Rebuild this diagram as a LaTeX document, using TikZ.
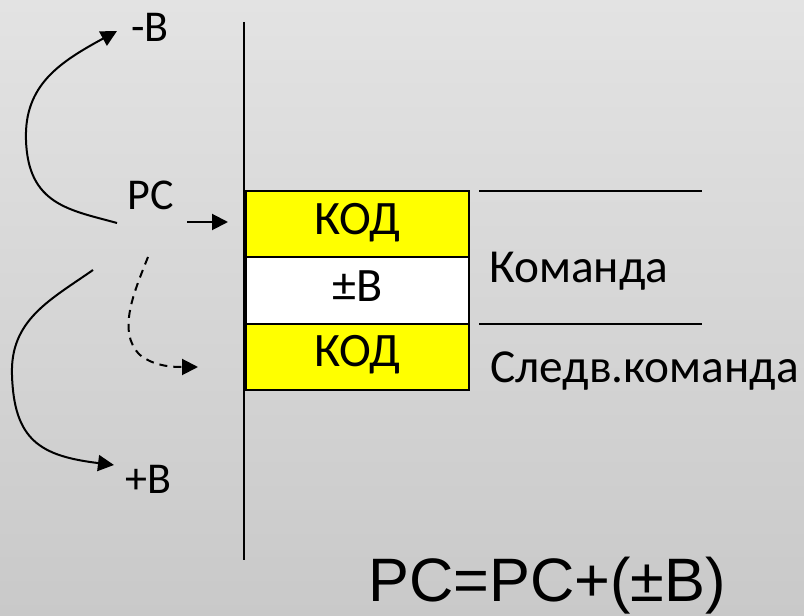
\documentclass[tikz,border=0pt]{standalone}
\usepackage{fontspec}
\setmainfont{Carlito}
\newfontfamily\arialfont{Liberation Sans}
\usetikzlibrary{arrows.meta}
\definecolor{bgtop}{RGB}{227,227,227}
\definecolor{bgbot}{RGB}{201,201,201}
\definecolor{kodyellow}{RGB}{255,255,0}
\tikzset{
  lbl/.style={inner sep=0pt, font=\fontsize{33}{36}\selectfont},
  biglbl/.style={inner sep=0pt, font=\fontsize{35.5}{40}\selectfont},
  cell/.style={draw=black, line width=1.5pt},
  celltxt/.style={inner sep=0pt, font=\fontsize{36}{40}\selectfont},
  conn/.style={line width=1.5pt, -{Triangle[length=12pt,width=12pt]}},
  dconn/.style={conn, dash pattern=on 6pt off 4.5pt},
  plain/.style={line width=1.3pt}
}
\begin{document}
\begin{tikzpicture}[x=0.75pt,y=-0.75pt]
\shade[top color=bgtop, bottom color=bgbot] (0,0) rectangle (804,616);
\useasboundingbox (0,0) rectangle (804,616);
% vertical axis
\coordinate (vtop) at (244,22);
\coordinate (vbot) at (244,560);
\draw[plain] (vtop) -- (vbot);
% memory cells
\filldraw[cell, fill=kodyellow] (246,191) rectangle (469,257);
\filldraw[cell, fill=white] (246,257) rectangle (469,324);
\filldraw[cell, fill=kodyellow] (246,324) rectangle (469,390);
\node[celltxt, anchor=base] (kod1) at (357.5,235) {КОД};
\node[celltxt, anchor=base] (offs) at (357.5,302) {±B};
\node[celltxt, anchor=base] (kod2) at (357.5,367) {КОД};
% bracket lines
\coordinate (h1a) at (479,191); \coordinate (h1b) at (702,191);
\coordinate (h2a) at (479,324); \coordinate (h2b) at (702,324);
\draw[plain] (h1a) -- (h1b);
\draw[plain] (h2a) -- (h2b);
\node[biglbl, anchor=base west] (cmd) at (489,283) {Команда};
\node[biglbl, anchor=base west] (next) at (490,383) {Следв.команда};
% labels
\node[lbl, anchor=base west] (pc) at (127,210) {PC};
\node[lbl, anchor=base west] (mb) at (131,42) {-B};
\node[lbl, anchor=base west] (pb) at (125,494) {+B};
% arrows
\coordinate (pcarr) at (187,222);
\coordinate (cellin) at (228,222);
\draw[conn] (pcarr) -- (cellin);
\coordinate (upstart) at (117,223);
\coordinate (uptip) at (117,31);
\draw[conn] (upstart) .. controls (70,210) and (28,205) .. (26,140)
  .. controls (24,85) and (60,62) .. (uptip);
\coordinate (lostart) at (93,270);
\coordinate (lotip) at (114,465);
\draw[conn] (lostart) .. controls (50,300) and (10,320) .. (12,375)
  .. controls (14,440) and (40,456) .. (lotip);
\coordinate (dstart) at (148,257);
\coordinate (dtip) at (198,367);
\draw[dconn] (dstart) .. controls (135,290) and (116,332) .. (140,355)
  .. controls (155,367) and (175,367) .. (dtip);
% formula
\node[inner sep=0pt, anchor=base west, font=\arialfont\fontsize{46}{50}\selectfont] (formula) at (368,602) {PC=PC+(±B)};
\end{tikzpicture}
\end{document}
